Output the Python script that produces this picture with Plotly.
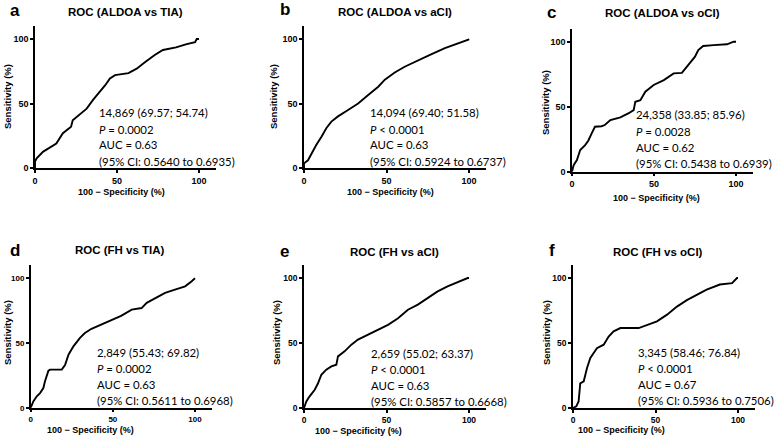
import plotly.graph_objects as go

W, H = 777, 437

# ROC curves: x = 100 - specificity (%), y = sensitivity (%)
a_x = [0, 0, 1, 5, 8, 13, 17, 22, 23, 27, 31.5, 35.5, 39.6, 42.7, 45.7, 48.8, 57, 62, 67, 73, 78, 86, 92.5, 97.6, 98.6, 100]
a_y = [0, 4.9, 7.5, 12.7, 15, 19, 27, 32, 37, 41, 46, 53, 59, 64, 69.5, 72, 73.5, 77, 82, 87.6, 91.5, 93.5, 96, 97.5, 100, 100]

b_x = [0, 0, 2.4, 4.5, 7.5, 10.5, 13.6, 16.6, 20.6, 26.7, 32.8, 38.9, 45, 49, 55, 61, 69, 77, 85.4, 93.5, 99.6, 100]
b_y = [0, 3.6, 6, 11, 18, 24, 31, 36, 40, 45, 50, 56.6, 63, 68.5, 74, 78.5, 83, 88, 93, 96.5, 99.5, 100]

c_x = [0, 1, 3, 5, 8, 10, 12, 14, 18, 20, 23.4, 29.5, 34.6, 37.6, 38.6, 41.7, 44.7, 49.8, 56, 62, 67, 70, 73, 75, 77, 80, 86.4, 94.5, 98.6, 100]
c_y = [0, 5, 9, 16.7, 20.5, 24, 29.5, 34.6, 35, 35.9, 39.7, 41.8, 45, 47.4, 53.8, 55, 61.5, 66.7, 70.5, 75.6, 76, 80.8, 86, 88.5, 93.6, 96.7, 97.4, 98, 100, 100]

d_x = [0, 1.6, 3.7, 5.7, 7.7, 8.7, 10.8, 11.8, 18.9, 20.9, 23, 26, 30, 33, 37, 43, 49, 55, 61.5, 67.5, 70.6, 75.7, 81.8, 87.8, 94, 98, 100]
d_y = [0, 4.9, 8.8, 11.3, 15.2, 20.4, 28.6, 29.4, 29.4, 33, 41, 47.4, 54, 57.7, 61, 64.5, 67.5, 71, 75.8, 77, 81, 84.8, 88.7, 91.2, 93.8, 97.7, 100]

e_x = [0, 1.4, 3.4, 6.5, 8.5, 10.5, 13.5, 16.6, 19.6, 20.6, 24.6, 28.7, 32.7, 38.8, 44.8, 50.9, 57, 63, 69, 75, 81, 87, 93, 99.2, 100]
e_y = [0, 5, 9, 14, 19, 25.6, 29.5, 32, 33.3, 39.7, 43.6, 48.7, 52.6, 56.4, 60, 64, 69, 75.6, 79.5, 84.6, 89.7, 93.6, 97, 100, 100]

f_x = [0, 2, 3.4, 4.4, 6.5, 8.5, 10.5, 14.5, 18.6, 21.6, 24.6, 28.7, 39.8, 44.8, 50.9, 57, 63, 69, 75, 81, 89, 96.4, 99.4, 100]
f_y = [0, 1.3, 5, 19, 20.5, 30.8, 38.5, 46, 48.7, 55, 59, 61.5, 61.5, 64, 66.7, 71.8, 78, 83, 87, 91, 95, 96, 100, 100]

letters = ['a', 'b', 'c', 'd', 'e', 'f']
titles = ['ROC (ALDOA vs TIA)', 'ROC (ALDOA vs aCI)', 'ROC (ALDOA vs oCI)',
          'ROC (FH vs TIA)', 'ROC (FH vs aCI)', 'ROC (FH vs oCI)']
stats = [
    ['14,869 (69.57; 54.74)', '<i>P</i> = 0.0002', 'AUC = 0.63', '(95% CI: 0.5640 to 0.6935)'],
    ['14,094 (69.40; 51.58)', '<i>P</i> < 0.0001', 'AUC = 0.63', '(95% CI: 0.5924 to 0.6737)'],
    ['24,358 (33.85; 85.96)', '<i>P</i> = 0.0028', 'AUC = 0.62', '(95% CI: 0.5438 to 0.6939)'],
    ['2,849 (55.43; 69.82)', '<i>P</i> = 0.0002', 'AUC = 0.63', '(95% CI: 0.5611 to 0.6968)'],
    ['2,659 (55.02; 63.37)', '<i>P</i> < 0.0001', 'AUC = 0.63', '(95% CI: 0.5857 to 0.6668)'],
    ['3,345 (58.46; 76.84)', '<i>P</i> < 0.0001', 'AUC = 0.67', '(95% CI: 0.5936 to 0.7506)'],
]
curves = [(a_x, a_y), (b_x, b_y), (c_x, c_y), (d_x, d_y), (e_x, e_y), (f_x, f_y)]

# pixel layout for each panel: x of 0, x of 100, y of 0, y of 100
geo = [
    (35, 199, 168, 39),
    (304, 469, 168, 39),
    (572, 736, 171.7, 41.7),
    (30.7, 195, 407.7, 278.3),
    (304, 469, 408, 278),
    (573, 738, 408, 278),
]
# text positions (px): letter, title centre, x-title centre, y-title centre, first stats line centre
letter_pos = [(8, 10), (278, 9), (545, 12), (8, 250), (278, 251), (547, 250)]
title_pos = [(125, 12), (395, 12), (662, 13), (120, 250), (395, 252), (658, 252)]
xt_pos = [(121, 192), (390, 192), (656, 198), (90, 430), (358, 431), (621, 430)]
yt_pos = [(7, 97), (273, 97), (545, 103), (7, 333), (276, 333), (546, 333)]
st_pos = [(97, 113), (368, 113), (634, 115), (95, 352), (369, 353), (636, 352)]
tick_size = [9, 9, 9, 8, 8.5, 8.5]

XMAX, YMAX = 110.5, 110

fig = go.Figure()
annos = []
bold = dict(family='Liberation Sans', color='black', weight='bold')

for i in range(6):
    x0, x100, y0, y100 = geo[i]
    sx = (x100 - x0) / 100
    sy = (y0 - y100) / 100
    xd = [x0 / W, (x0 + XMAX * sx) / W]
    yd = [1 - y0 / H, 1 - (y0 - YMAX * sy) / H]
    n = '' if i == 0 else str(i + 1)
    fig.add_trace(go.Scatter(x=curves[i][0], y=curves[i][1], mode='lines',
                             line=dict(color='black', width=1.9), showlegend=False,
                             xaxis='x' + n, yaxis='y' + n))
    common = dict(range=[0, XMAX], tickvals=[0, 50, 100], showline=True, automargin=False,
                  linecolor='black', linewidth=1.5, ticks='outside', ticklen=3, tickwidth=1.5,
                  tickcolor='black', showgrid=False, zeroline=False,
                  tickfont=dict(bold, size=tick_size[i]))
    ax = dict(common, domain=xd, anchor='y' + n)
    ay = dict(common, domain=yd, range=[0, YMAX], anchor='x' + n)
    fig.update_layout(**{'xaxis' + n: ax, 'yaxis' + n: ay})

    lx, ly = letter_pos[i]
    annos.append(dict(text=letters[i], x=lx / W, y=1 - ly / H, xref='paper', yref='paper',
                      xanchor='left', yanchor='middle', showarrow=False,
                      font=dict(family='Liberation Sans', size=17, color='black', weight='bold')))
    tx, ty = title_pos[i]
    annos.append(dict(text=titles[i], x=tx / W, y=1 - ty / H, xref='paper', yref='paper',
                      xanchor='center', yanchor='middle', showarrow=False,
                      font=dict(bold, size=11.5)))
    xx, xy = xt_pos[i]
    annos.append(dict(text='100 − Specificity (%)', x=xx / W, y=1 - xy / H, xref='paper', yref='paper',
                      xanchor='center', yanchor='middle', showarrow=False,
                      font=dict(bold, size=9)))
    yx, yy = yt_pos[i]
    annos.append(dict(text='Sensitivity (%)', x=yx / W, y=1 - yy / H, xref='paper', yref='paper',
                      xanchor='center', yanchor='middle', showarrow=False, textangle=-90,
                      font=dict(bold, size=9.5)))
    sx_, sy_ = st_pos[i]
    for k, line in enumerate(stats[i]):
        annos.append(dict(text=line, x=sx_ / W, y=1 - (sy_ + 16 * k) / H, xref='paper', yref='paper',
                          xanchor='left', yanchor='middle', align='left', showarrow=False,
                          font=dict(family='Lato', size=11.4, color='black')))

fig.update_layout(width=W, height=H, margin=dict(l=0, r=0, t=0, b=0),
                  plot_bgcolor='white', paper_bgcolor='white', annotations=annos)

# drop the default page margin so the figure sits at the window corner
fig.write_html("out.html", config={'displayModeBar': False},
               post_script="document.body.style.margin='0';")
